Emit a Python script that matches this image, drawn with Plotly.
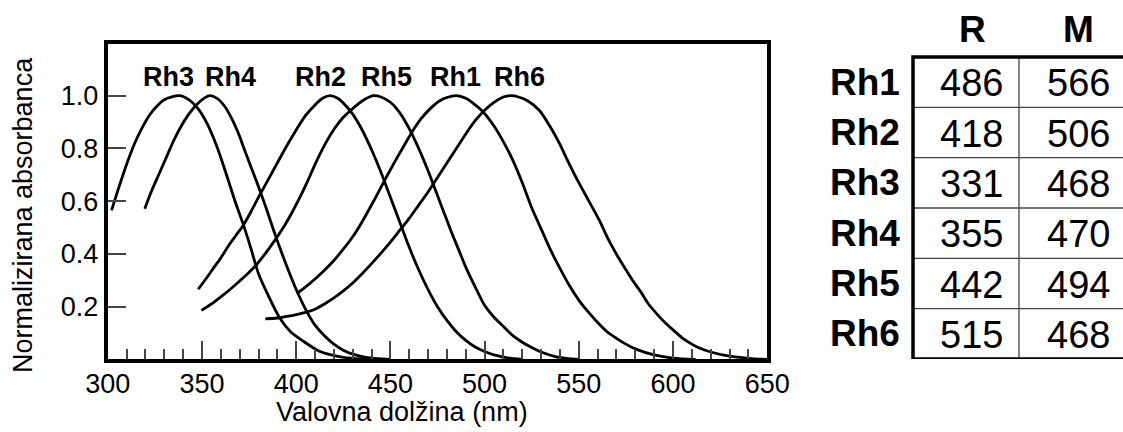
import plotly.graph_objects as go

# ---------------- data ----------------
rh3_nm = [302, 306, 310, 314, 318, 322, 326, 330, 338, 343, 348, 353, 358, 363, 368, 372, 376, 380, 385, 391, 397, 404, 412, 418, 425, 435, 445]
rh3_abs = [0.565, 0.655, 0.74, 0.815, 0.875, 0.925, 0.96, 0.985, 1.0, 0.985, 0.95, 0.89, 0.805, 0.70, 0.59, 0.51, 0.42, 0.325, 0.245, 0.16, 0.105, 0.068, 0.032, 0.018, 0.008, 0.002, 0.0]

rh4_nm = [319.6, 323, 327, 331, 335, 339, 343, 347, 351, 354, 358, 362, 366, 370, 372, 376, 380, 384, 388, 392, 396, 400, 405, 410, 415, 420, 425, 430, 437, 450]
rh4_abs = [0.571, 0.635, 0.70, 0.765, 0.83, 0.885, 0.93, 0.965, 0.99, 1.0, 0.99, 0.96, 0.91, 0.845, 0.805, 0.73, 0.655, 0.575, 0.49, 0.41, 0.335, 0.265, 0.19, 0.13, 0.09, 0.058, 0.035, 0.02, 0.008, 0.0]

rh2_nm = [348, 352, 356, 360, 364, 368, 372, 376, 380, 385, 390, 395, 400, 405, 410, 414, 418, 422, 426, 430, 435, 440, 445, 450, 455, 460, 465, 470, 475, 480, 485, 490, 495, 500, 505, 512, 520]
rh2_abs = [0.266, 0.305, 0.345, 0.385, 0.43, 0.47, 0.51, 0.56, 0.615, 0.68, 0.745, 0.81, 0.87, 0.925, 0.965, 0.99, 1.0, 0.99, 0.965, 0.93, 0.87, 0.795, 0.71, 0.615, 0.52, 0.425, 0.34, 0.265, 0.2, 0.148, 0.105, 0.072, 0.047, 0.03, 0.017, 0.006, 0.0]

rh5_nm = [349.7, 355, 360, 365, 370, 375, 379, 384, 389, 394, 398, 402, 406, 411, 416, 420, 425, 429, 435, 441, 445, 450, 455, 460, 465, 470, 474, 478, 482, 486, 490, 495, 500, 505, 510, 515, 520, 525, 530, 538, 550]
rh5_abs = [0.186, 0.21, 0.237, 0.266, 0.297, 0.33, 0.36, 0.405, 0.455, 0.51, 0.56, 0.615, 0.675, 0.755, 0.825, 0.872, 0.918, 0.945, 0.98, 1.0, 0.995, 0.975, 0.935, 0.875, 0.80, 0.715, 0.64, 0.565, 0.49, 0.42, 0.35, 0.275, 0.205, 0.16, 0.125, 0.09, 0.065, 0.045, 0.028, 0.01, 0.0]

rh1_nm = [400.2, 405, 410, 415, 420, 425, 430, 434, 438, 442, 447, 452, 456, 461, 466, 471, 476, 480, 485, 490, 495, 499, 505, 510, 515, 520, 525, 530, 535, 540, 545, 550, 555, 560, 565, 570, 575, 580, 590, 600, 612]
rh1_abs = [0.249, 0.275, 0.305, 0.338, 0.375, 0.418, 0.465, 0.51, 0.56, 0.612, 0.68, 0.745, 0.795, 0.857, 0.91, 0.95, 0.98, 0.993, 1.0, 0.99, 0.965, 0.94, 0.885, 0.825, 0.755, 0.67, 0.575, 0.495, 0.415, 0.345, 0.28, 0.225, 0.18, 0.14, 0.105, 0.08, 0.058, 0.04, 0.017, 0.005, 0.0]

rh6_nm = [383.6, 390, 395, 400, 405, 410, 415, 420, 425, 430, 435, 440, 445, 450, 455, 460, 465, 470, 475, 480, 485, 490, 495, 500, 505, 510, 514, 518, 523, 529, 535, 540, 544, 550, 555, 561, 565, 570, 575, 579, 583, 587, 592, 596, 600, 605, 610, 614, 620, 630, 640, 650]
rh6_abs = [0.154, 0.157, 0.163, 0.17, 0.178, 0.19, 0.21, 0.233, 0.26, 0.29, 0.325, 0.363, 0.403, 0.445, 0.49, 0.535, 0.585, 0.635, 0.69, 0.745, 0.80, 0.855, 0.905, 0.945, 0.975, 0.995, 1.0, 0.995, 0.98, 0.945, 0.88, 0.815, 0.755, 0.67, 0.605, 0.526, 0.465, 0.399, 0.34, 0.295, 0.255, 0.21, 0.168, 0.138, 0.112, 0.081, 0.058, 0.043, 0.028, 0.012, 0.004, 0.0]

curve_names = ["Rh3", "Rh4", "Rh2", "Rh5", "Rh1", "Rh6"]
curves = [(rh3_nm, rh3_abs), (rh4_nm, rh4_abs), (rh2_nm, rh2_abs),
          (rh5_nm, rh5_abs), (rh1_nm, rh1_abs), (rh6_nm, rh6_abs)]

x_ticks = [300, 350, 400, 450, 500, 550, 600, 650]
y_ticks = [0.2, 0.4, 0.6, 0.8, 1.0]

pigments = ["Rh1", "Rh2", "Rh3", "Rh4", "Rh5", "Rh6"]
r_values = [486, 418, 331, 355, 442, 515]
m_values = [566, 506, 468, 470, 494, 468]
col_headers = ["R", "M"]

# ---------------- layout constants ----------------
W, H = 1123, 432
FONT = "Arial, Liberation Sans, Helvetica, sans-serif"
label_x = {"Rh3": 332, "Rh4": 365, "Rh2": 413, "Rh5": 448, "Rh1": 484.5, "Rh6": 518.5}

# table geometry in pixels
T_LEFT, T_TOP, T_BOTTOM, COL_W = 913, 57, 359, 106
ROW_H = (T_BOTTOM - T_TOP) / len(pigments)
X2_LEFT_PX = 800

fig = go.Figure()
for name, (xs, ys) in zip(curve_names, curves):
    fig.add_trace(go.Scatter(x=xs, y=ys, mode="lines", name=name,
                             line=dict(color="black", width=2.8, shape="spline", smoothing=0.8),
                             hoverinfo="skip", xaxis="x", yaxis="y"))

annotations = []
for name in curve_names:
    annotations.append(dict(x=label_x[name], y=1.072, xref="x", yref="y", text="<b>%s</b>" % name,
                            showarrow=False, font=dict(family=FONT, size=27, color="black"),
                            xanchor="center", yanchor="middle"))

# axis titles
annotations.append(dict(x=402 / W, y=1 - 412 / H, xref="paper", yref="paper",
                        text="Valovna dolžina (nm)", showarrow=False,
                        font=dict(family=FONT, size=27, color="black"),
                        xanchor="center", yanchor="middle"))
annotations.append(dict(x=23 / W, y=1 - 215 / H, xref="paper", yref="paper",
                        text="Normalizirana absorbanca", showarrow=False, textangle=-90,
                        font=dict(family=FONT, size=27, color="black"),
                        xanchor="center", yanchor="middle"))

# table (x2/y2 axes: columns 0..2, rows 0..6)
for i, p in enumerate(pigments):
    annotations.append(dict(x=-0.1, y=i + 0.5, xref="x2", yref="y2", text="<b>%s</b>" % p,
                            showarrow=False, xanchor="right", yanchor="middle",
                            font=dict(family=FONT, size=37, color="black")))
    annotations.append(dict(x=0.5, y=i + 0.5, xref="x2", yref="y2", text=str(r_values[i]),
                            showarrow=False, xanchor="center", yanchor="middle", xshift=5, yshift=-1,
                            font=dict(family=FONT, size=38, color="black")))
    annotations.append(dict(x=1.5, y=i + 0.5, xref="x2", yref="y2", text=str(m_values[i]),
                            showarrow=False, xanchor="center", yanchor="middle", xshift=6, yshift=-1,
                            font=dict(family=FONT, size=38, color="black")))
for j, h in enumerate(col_headers):
    annotations.append(dict(x=j + 0.5, y=-0.55, xref="x2", yref="y2", text="<b>%s</b>" % h,
                            showarrow=False, xanchor="center", yanchor="middle", xshift=6,
                            font=dict(family=FONT, size=37, color="black")))

shapes = []
for k in range(1, len(pigments)):
    shapes.append(dict(type="line", xref="x2", yref="y2", x0=0, x1=2, y0=k, y1=k,
                       line=dict(color="#444", width=1.3)))
shapes.append(dict(type="line", xref="x2", yref="y2", x0=1, x1=1, y0=0, y1=len(pigments),
                   line=dict(color="#444", width=1.3)))
shapes.append(dict(type="rect", xref="x2", yref="y2", x0=0, x1=2, y0=0, y1=len(pigments),
                   line=dict(color="black", width=3.5)))

fig.update_layout(
    width=W, height=H, margin=dict(l=0, r=0, t=0, b=0, autoexpand=False),
    paper_bgcolor="white", plot_bgcolor="white", showlegend=False,
    annotations=annotations, shapes=shapes,
    xaxis=dict(domain=[107.8 / W, 767.2 / W], range=[300, 650], tickvals=x_ticks,
               ticks="inside", ticklen=18, tickwidth=1.5, tickcolor="#444",
               showline=True, linewidth=4, linecolor="black", mirror=True,
               showgrid=False, zeroline=False, automargin=False, ticklabelstandoff=-3,
               tickfont=dict(family=FONT, size=27, color="black"),
               minor=dict(ticks="inside", ticklen=10, tickwidth=1.5, tickcolor="#444",
                          dtick=10, tick0=300, showgrid=False)),
    yaxis=dict(domain=[1 - 359.4 / H, 1 - 44 / H], range=[0, 1.196], tickvals=y_ticks,
               tickformat=".1f", ticks="inside", ticklen=18, tickwidth=1.5, tickcolor="#444",
               showline=True, linewidth=4, linecolor="black", mirror=True,
               showgrid=False, zeroline=False, automargin=False,
               tickfont=dict(family=FONT, size=27, color="black")),
    xaxis2=dict(domain=[X2_LEFT_PX / W, 1.0],
                range=[(X2_LEFT_PX - T_LEFT) / COL_W, (W - T_LEFT) / COL_W],
                visible=False, anchor="y2", fixedrange=True, automargin=False),
    yaxis2=dict(domain=[1 - T_BOTTOM / H, 1.0], range=[len(pigments), -T_TOP / ROW_H],
                visible=False, anchor="x2", fixedrange=True, automargin=False),
)

fig.write_html("out.html", config={"displayModeBar": False},
               post_script="document.body.style.margin='0';document.body.style.overflow='hidden';")
